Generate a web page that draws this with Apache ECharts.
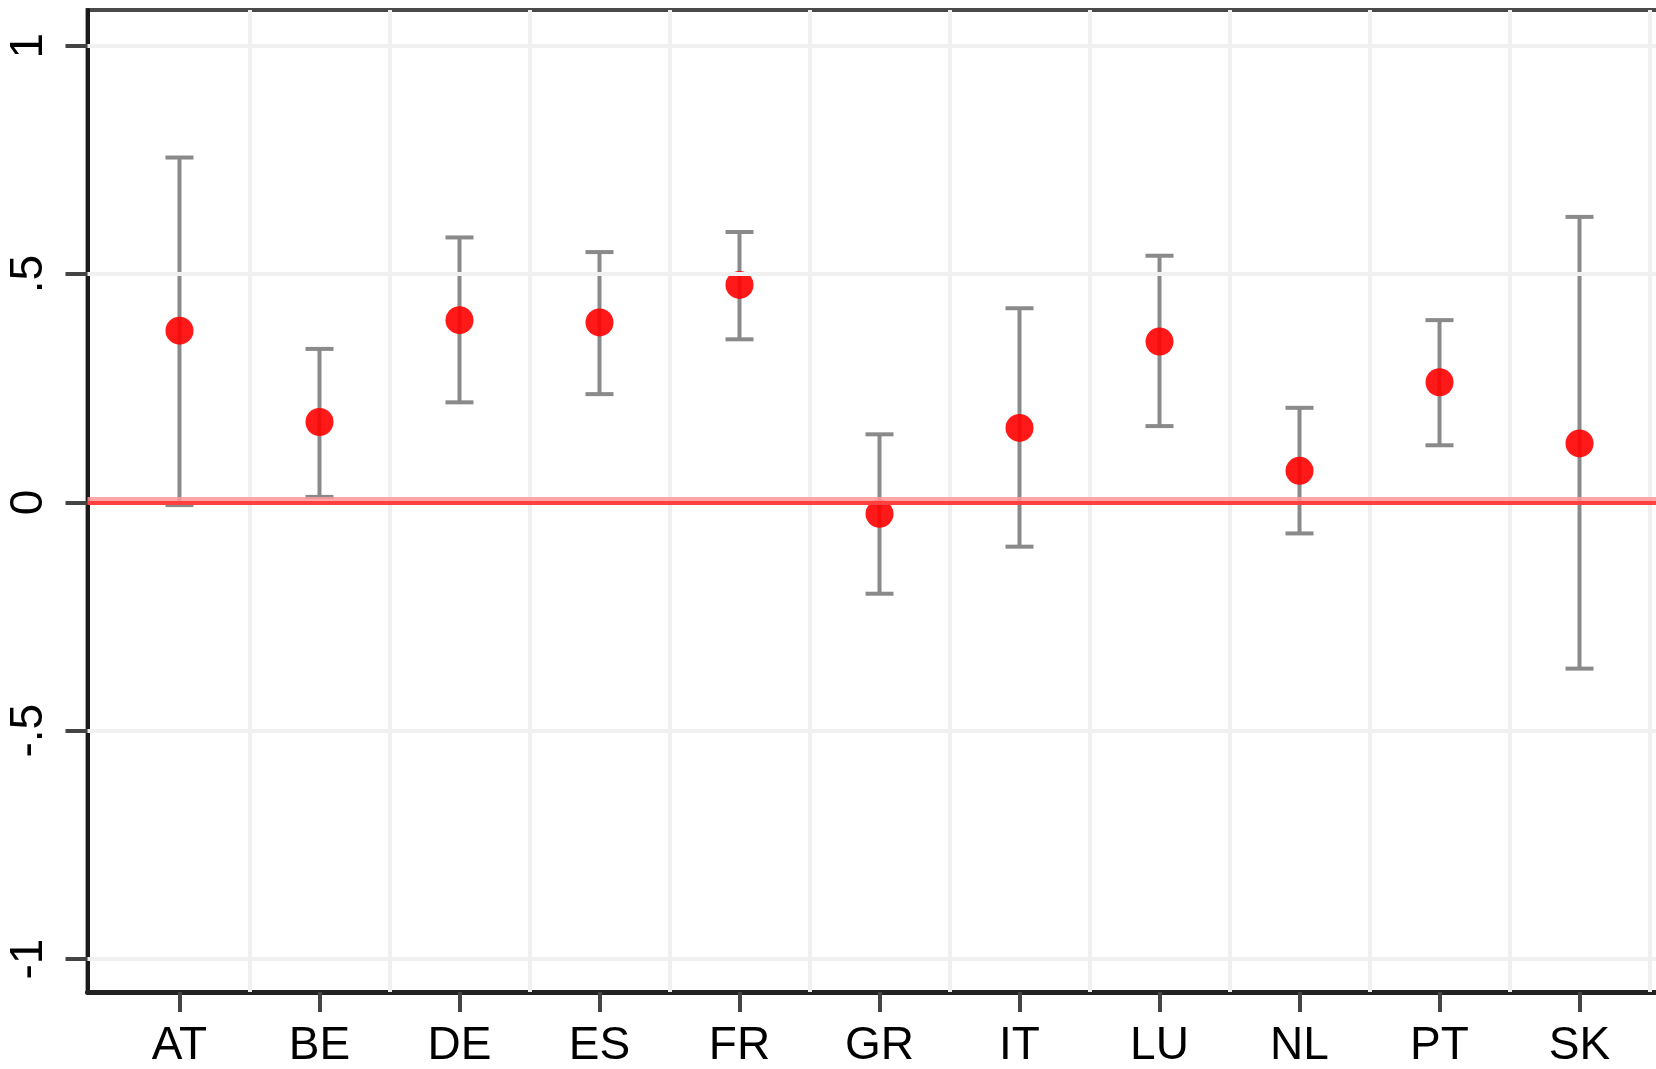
<!DOCTYPE html>
<html lang="en">
<head>
<meta charset="UTF-8">
<title>Estimates by country</title>
<style type="text/css">
  html, body { margin: 0; padding: 0; overflow: hidden; background: #fff; }
  #chart { width: 1700px; height: 1069px; }
</style>
</head>
<body>
<div id="chart"></div>
<script src="https://cdn.jsdelivr.net/npm/echarts@6/dist/echarts.min.js"></script>
<script type="text/javascript">
// countries on the x axis
var countries = ['AT', 'BE', 'DE', 'ES', 'FR', 'GR', 'IT', 'LU', 'NL', 'PT', 'SK'];
// point estimates and confidence bounds
var estimate = [0.376, 0.176, 0.399, 0.394, 0.476, -0.025, 0.163, 0.352, 0.069, 0.263, 0.129];
var lower    = [-0.006, 0.012, 0.219, 0.237, 0.357, -0.200, -0.097, 0.167, -0.068, 0.125, -0.364];
var upper    = [0.755, 0.336, 0.580, 0.548, 0.592, 0.149, 0.425, 0.540, 0.207, 0.399, 0.625];
// y tick values and their labels
var yTicks = [-1, -0.5, 0, 0.5, 1];
var yTickLabels = ['-1', '-.5', '0', '.5', '1'];
// light grid lines
var xGridAt = [0.5, 1.5, 2.5, 3.5, 4.5, 5.5, 6.5, 7.5, 8.5, 9.5, 10.5];
var yGridAt = [-1, -0.5, 0.5, 1];

var chart = echarts.init(document.getElementById('chart'));

var pointData = [];
var barData = [];
for (var i = 0; i < countries.length; i++) {
  pointData.push([i, estimate[i]]);
  barData.push([i, lower[i], upper[i]]);
}

var gridLines = [];
for (var a = 0; a < xGridAt.length; a++) gridLines.push({ xAxis: xGridAt[a] });
for (var b = 0; b < yGridAt.length; b++) gridLines.push({ yAxis: yGridAt[b] });

var fontFam = '"Liberation Sans", Arial, sans-serif';

var option = {
  animation: false,
  grid: {
    left: 87.5, right: 28.5, top: 10, bottom: 72,
    show: true, borderColor: '#4a4a4a', borderWidth: 4
  },
  xAxis: {
    type: 'value',
    min: -0.657, max: 10.657,
    splitLine: { show: false },
    axisLine: { show: true, onZero: false, lineStyle: { color: '#222', width: 5 } },
    axisTick: { show: true, length: 20, customValues: [0, 1, 2, 3, 4, 5, 6, 7, 8, 9, 10],
                lineStyle: { color: '#444', width: 4 } },
    axisLabel: {
      customValues: [0, 1, 2, 3, 4, 5, 6, 7, 8, 9, 10],
      formatter: function (v) { return countries[Math.round(v)]; },
      fontSize: 46, color: '#000', fontFamily: fontFam, margin: 31
    }
  },
  yAxis: {
    type: 'value',
    min: -1.072, max: 1.078,
    splitLine: { show: false },
    axisLine: { show: true, onZero: false, lineStyle: { color: '#1a1a1a', width: 4 } },
    axisTick: { show: true, length: 22, customValues: yTicks,
                lineStyle: { color: '#444', width: 4 } },
    axisLabel: {
      customValues: yTicks,
      formatter: function (v) {
        var k = yTicks.indexOf(Math.round(v * 2) / 2);
        return k >= 0 ? yTickLabels[k] : '';
      },
      rotate: 90, fontSize: 46, color: '#000', fontFamily: fontFam, margin: 35
    }
  },
  series: [
    {
      // light grid and the zero reference line
      type: 'line',
      data: [],
      silent: true,
      markLine: {
        symbol: 'none', silent: true, label: { show: false },
        lineStyle: { color: '#f0f0f0', width: 4, type: 'solid' },
        data: gridLines.concat([{
          yAxis: 0,
          lineStyle: { color: '#ff4040', width: 4, type: 'solid',
                       shadowColor: 'rgba(255,150,150,0.85)', shadowOffsetY: -4, shadowBlur: 0 }
        }])
      },
      z: 1
    },
    {
      // confidence intervals
      type: 'custom',
      data: barData,
      z: 3,
      renderItem: function (params, api) {
        var x = api.value(0);
        var lo = api.coord([x, api.value(1)]);
        var hi = api.coord([x, api.value(2)]);
        var cap = 14;
        var st = { stroke: '#8a8a8a', lineWidth: 4 };
        return {
          type: 'group',
          children: [
            { type: 'line', shape: { x1: lo[0], y1: lo[1], x2: hi[0], y2: hi[1] }, style: st },
            { type: 'line', shape: { x1: hi[0] - cap, y1: hi[1], x2: hi[0] + cap, y2: hi[1] }, style: st },
            { type: 'line', shape: { x1: lo[0] - cap, y1: lo[1], x2: lo[0] + cap, y2: lo[1] }, style: st }
          ]
        };
      }
    },
    {
      // point estimates
      type: 'scatter',
      data: pointData,
      symbol: 'circle',
      symbolSize: 28,
      itemStyle: { color: '#ff0000', opacity: 0.9 },
      z: 4
    }
  ]
};

chart.setOption(option);
</script>
</body>
</html>
